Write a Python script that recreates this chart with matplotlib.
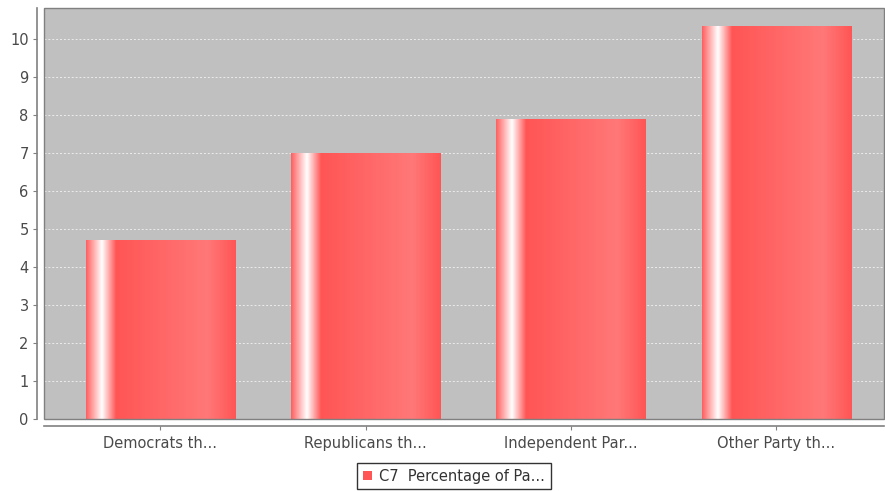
import matplotlib
matplotlib.use("Agg")
import matplotlib.pyplot as plt
import numpy as np
from matplotlib.colors import LinearSegmentedColormap
from matplotlib.patches import Patch

categories = ["Democrats th...", "Republicans th...", "Independent Par...", "Other Party th..."]
values = [4.71, 7.0, 7.89, 10.32]
series_label = "C7  Percentage of Pa..."
y_ticks = [0, 1, 2, 3, 4, 5, 6, 7, 8, 9, 10]

plt.rcParams["font.family"] = ["DejaVu Sans"]
plt.rcParams["font.size"] = 10.5

fig = plt.figure(figsize=(8.85, 4.91), dpi=100)
W, H = 885, 491
ax = fig.add_axes([44 / W, 1 - 419 / H, (884 - 44) / W, (419 - 8) / H])
ax.set_facecolor("#c0c0c0")

x = np.arange(len(categories))
bars = ax.bar(x, values, width=0.726, color="#ff5555", edgecolor="#f39090",
              linewidth=0.6, zorder=2)

# horizontal gradient like the JFreeChart bar painter
grad = LinearSegmentedColormap.from_list(
    "bar", [(0.0, "#ff6060"), (0.105, "#ffffff"), (0.2, "#ff5555"),
            (0.81, "#ff7878"), (1.0, "#ff5555")])
ramp = np.linspace(0, 1, 256).reshape(1, -1)
for b in bars:
    x0, y0 = b.get_x(), b.get_y()
    ax.imshow(ramp, cmap=grad, aspect="auto", zorder=2.5,
              extent=(x0, x0 + b.get_width(), y0, y0 + b.get_height()),
              interpolation="bilinear")

ax.set_xlim(-0.567, 3.525)
ax.set_ylim(0, 10.82)
ax.set_yticks(y_ticks)
ax.set_xticks(x)
ax.set_xticklabels(categories)

ax.yaxis.grid(True, color="#ececec", linestyle=(0, (2, 2)), linewidth=0.7, zorder=1)
ax.set_axisbelow(True)

for side in ["top", "right"]:
    ax.spines[side].set_visible(False)
ax.spines["left"].set_position(("outward", 5))
ax.spines["bottom"].set_position(("outward", 5))
for side in ["left", "bottom"]:
    ax.spines[side].set_color("#808080")
    ax.spines[side].set_linewidth(1.2)

# plot area outline
ax.add_patch(plt.Rectangle((0, 0), 1, 1, transform=ax.transAxes, fill=False,
                           edgecolor="#808080", linewidth=1.0, zorder=5,
                           clip_on=False))

ax.tick_params(axis="both", colors="#808080", labelcolor="#4a4a4a",
               labelsize=10.5, length=3, width=0.8)
ax.tick_params(axis="x", pad=4)
ax.tick_params(axis="y", pad=3)

fig.legend(handles=[Patch(facecolor="#ff5555", edgecolor="none", label=series_label)],
           loc="center", bbox_to_anchor=(454 / W, 1 - 476 / H),
           frameon=True, fancybox=False, edgecolor="black", fontsize=10.5,
           handlelength=0.6, handleheight=0.6, handletextpad=0.5,
           borderpad=0.4, borderaxespad=0, labelcolor="#333333")

fig.savefig("out.png", dpi=100)
